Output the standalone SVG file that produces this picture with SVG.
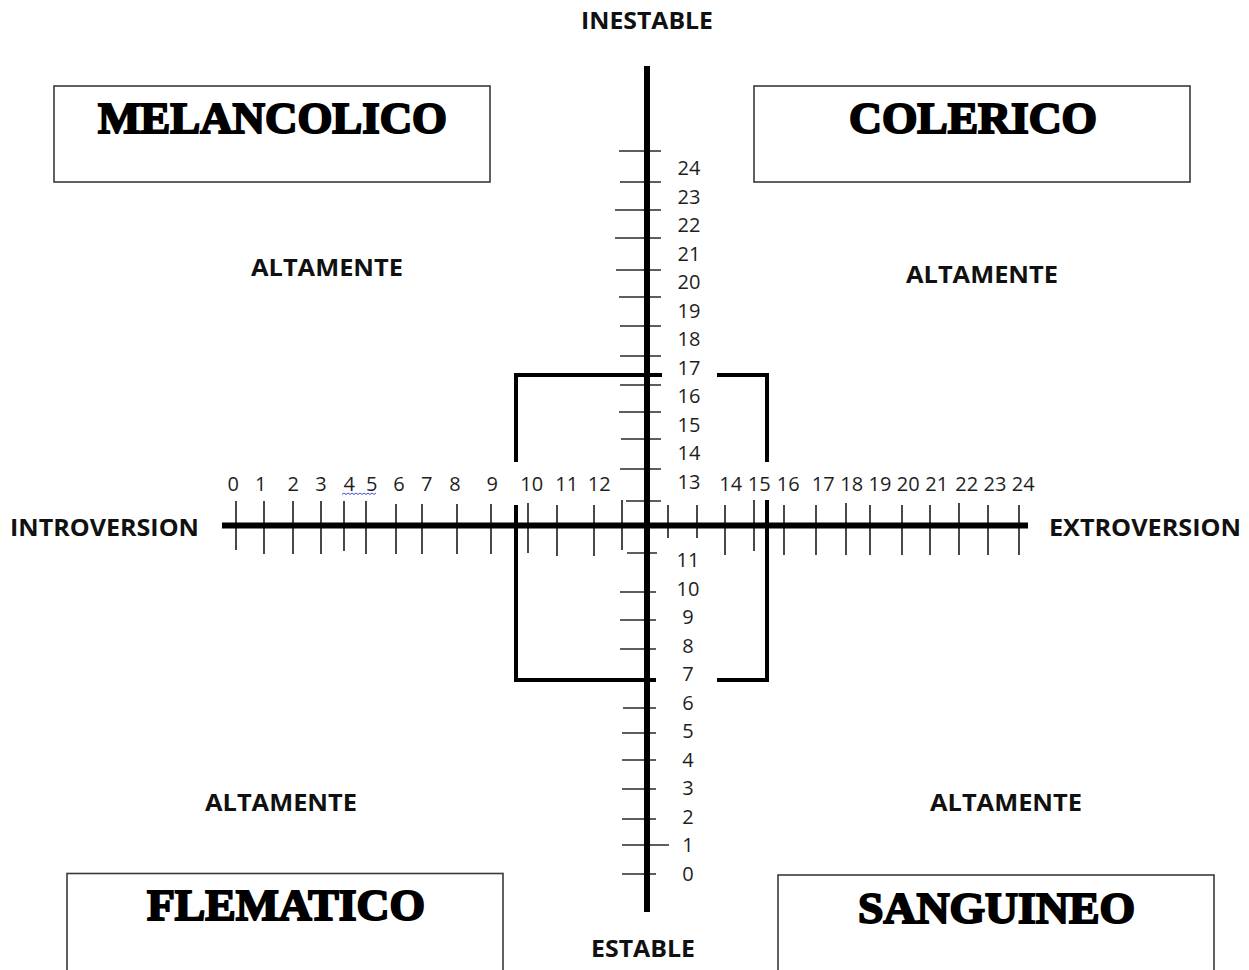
<svg xmlns="http://www.w3.org/2000/svg" width="1249" height="970" viewBox="0 0 1249 970">
<style>
.box{fill:#fff;stroke:#3a3a3a;stroke-width:1.6}
.title{font-family:"Liberation Serif","DejaVu Serif",serif;font-weight:700;font-size:44px;fill:#000;stroke:#000;stroke-width:2;text-anchor:middle}
.lbl{font-family:"Open Sans","Noto Sans","Liberation Sans",sans-serif;font-weight:700;font-size:24px;fill:#111}
.num{font-family:"Open Sans","Noto Sans","Liberation Sans",sans-serif;font-size:20px;fill:#1e1e1e;text-anchor:middle}
.axis{stroke:#000;stroke-width:6;fill:none}
.tick{stroke:#2a2a2a;stroke-width:1.7;fill:none}
.brk{stroke:#000;stroke-width:4;fill:none}
</style>
<rect width="1249" height="970" fill="#fff"/>

<g id="melancolico"><rect class="box" x="54" y="86" width="436" height="96"/><text class="title" x="272.5" y="133" textLength="349" lengthAdjust="spacingAndGlyphs">MELANCOLICO</text></g>
<g id="colerico"><rect class="box" x="754" y="86" width="436" height="96"/><text class="title" x="973" y="133" textLength="248" lengthAdjust="spacingAndGlyphs">COLERICO</text></g>
<g id="flematico"><rect class="box" x="67" y="873.5" width="436" height="110"/><text class="title" x="286" y="919.5" textLength="278" lengthAdjust="spacingAndGlyphs">FLEMATICO</text></g>
<g id="sanguineo"><rect class="box" x="778" y="875" width="436" height="110"/><text class="title" x="996.5" y="923" textLength="277" lengthAdjust="spacingAndGlyphs">SANGUINEO</text></g>

<g id="labels">
<text class="lbl" x="581" y="29" textLength="132" lengthAdjust="spacingAndGlyphs">INESTABLE</text>
<text class="lbl" x="591" y="957" textLength="104" lengthAdjust="spacingAndGlyphs">ESTABLE</text>
<text class="lbl" x="10" y="536" textLength="189" lengthAdjust="spacingAndGlyphs">INTROVERSION</text>
<text class="lbl" x="1049" y="536" textLength="192" lengthAdjust="spacingAndGlyphs">EXTROVERSION</text>
<text class="lbl" x="251" y="276" textLength="152" lengthAdjust="spacingAndGlyphs">ALTAMENTE</text>
<text class="lbl" x="906" y="283" textLength="152" lengthAdjust="spacingAndGlyphs">ALTAMENTE</text>
<text class="lbl" x="205" y="811" textLength="152" lengthAdjust="spacingAndGlyphs">ALTAMENTE</text>
<text class="lbl" x="930" y="811" textLength="152" lengthAdjust="spacingAndGlyphs">ALTAMENTE</text>
</g>

<g id="connectors">
<g id="ticks">
<path class="tick" d="M619 151H661M620 182H661M615 210H661M615 238H661M616 270H661M619 297H661M620 326H661M620 356H661M620 385H661M619 412H661M621 439H661M620 469H661M626 501H661M627 553H657M620 592H656M620 620H656M620 649H656M623 708H656M622 733H656M622 760H656M622 789H656M622 819H656M622 845H669M622 874H656"/>
<path class="tick" d="M236 501V550M264 501V554M293 501V554M321 501V554M344 501V551M366 501V554M396 504V554M422 504V554M457 504V554M491 504V554M528 503V553M557 505V556M594 505V556M622 500V550M668 505V538M697 505V538M725 505V555M754 500V551M784 505V555M816 505V555M846 503V555M870 505V555M902 505V555M930 505V555M959 503V555M988 505V555M1019 505V555"/>
</g>
<path id="v-axis" class="axis" d="M647 66V912"/>
<path id="h-axis" class="axis" d="M222 525.5H1028"/>
<path id="bracket" class="brk" d="M516 462V375H662M717 375H767V462M516 505V680H656M717 680H767V500"/>
</g>

<g id="v-numbers">
<text class="num" x="689" y="175">24</text>
<text class="num" x="689" y="203.5">23</text>
<text class="num" x="689" y="232">22</text>
<text class="num" x="689" y="260.5">21</text>
<text class="num" x="689" y="289">20</text>
<text class="num" x="689" y="317.5">19</text>
<text class="num" x="689" y="346">18</text>
<text class="num" x="689" y="374.5">17</text>
<text class="num" x="689" y="403">16</text>
<text class="num" x="689" y="431.5">15</text>
<text class="num" x="689" y="460">14</text>
<text class="num" x="689" y="488.5">13</text>
<text class="num" x="688" y="567">11</text>
<text class="num" x="688" y="595.5">10</text>
<text class="num" x="688" y="624">9</text>
<text class="num" x="688" y="652.5">8</text>
<text class="num" x="688" y="681">7</text>
<text class="num" x="688" y="709.5">6</text>
<text class="num" x="688" y="738">5</text>
<text class="num" x="688" y="766.5">4</text>
<text class="num" x="688" y="795">3</text>
<text class="num" x="688" y="823.5">2</text>
<text class="num" x="688" y="852">1</text>
<text class="num" x="688" y="880.5">0</text>
</g>

<g id="h-numbers">
<text class="num" x="233.3" y="491">0</text>
<text class="num" x="260.7" y="491">1</text>
<text class="num" x="293.3" y="491">2</text>
<text class="num" x="321" y="491">3</text>
<text class="num" x="349.3" y="491">4</text>
<text class="num" x="371.7" y="491">5</text>
<text class="num" x="399" y="491">6</text>
<text class="num" x="426.7" y="491">7</text>
<text class="num" x="455" y="491">8</text>
<text class="num" x="492.3" y="491">9</text>
<text class="num" x="531.7" y="491">10</text>
<text class="num" x="566.7" y="491">11</text>
<text class="num" x="599.3" y="491">12</text>
<text class="num" x="730.7" y="491">14</text>
<text class="num" x="759.3" y="491">15</text>
<text class="num" x="788.3" y="491">16</text>
<text class="num" x="823.3" y="491">17</text>
<text class="num" x="851.7" y="491">18</text>
<text class="num" x="880" y="491">19</text>
<text class="num" x="908.3" y="491">20</text>
<text class="num" x="936.7" y="491">21</text>
<text class="num" x="966.7" y="491">22</text>
<text class="num" x="995" y="491">23</text>
<text class="num" x="1023.3" y="491">24</text>
<path d="M342 494.5l2 -1.5l2 1.5l2 -1.5l2 1.5l2 -1.5l2 1.5l2 -1.5l2 1.5l2 -1.5l2 1.5l2 -1.5l2 1.5l2 -1.5l2 1.5l2 -1.5l2 1.5l2 -1.5" fill="none" stroke="#3b4fe0" stroke-width="1"/>
</g>
</svg>
